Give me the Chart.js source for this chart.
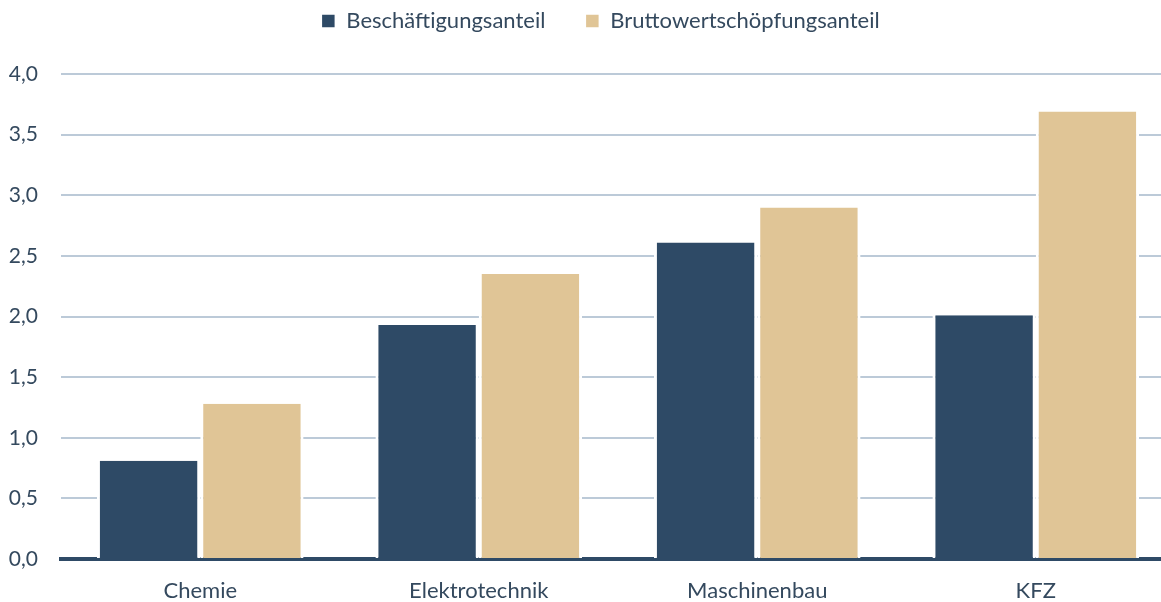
<!DOCTYPE html>
<html>
<head>
<meta charset="utf-8">
<script src="https://cdn.jsdelivr.net/npm/chart.js@4/dist/chart.umd.min.js"></script>
<style>
    body { margin: 0; overflow: hidden; background: #fff; }
</style>
</head>
<body>
<canvas id="chart" width="1175" height="602"></canvas>
<script>
var categories = ["Chemie", "Elektrotechnik", "Maschinenbau", "KFZ"];
var beschaeftigung = [0.81, 1.93, 2.61, 2.01];
var wertschoepfung = [1.28, 2.35, 2.90, 3.69];
var series_names = ["Beschäftigungsanteil", "Bruttowertschöpfungsanteil"];

var dark = "#2E4A66";
var sand = "#E0C596";
var text_color = "#34495E";

Chart.defaults.font.family = "Lato";
Chart.defaults.font.size = 22;
Chart.defaults.color = text_color;

// Legende: grosser Abstand zwischen den Einträgen, Zeichenfläche beginnt bei y=74
var legendSpace = {
    id: "legendSpace",
    beforeInit: function(chart) {
        var fit = chart.legend.fit;
        chart.legend.fit = function() {
            fit.bind(chart.legend)();
            this.height += 2;
        };
    },
    afterLayout: function(chart) {
        chart.legend.left += 13;
        chart.legend.right += 13;
        chart.legend.top -= 30;
        chart.legend.bottom -= 30;
    }
};

var ctx = document.getElementById("chart").getContext("2d");
var myChart = new Chart(ctx, {
    type: "bar",
    data: {
        labels: categories,
        datasets: [{
                label: series_names[0],
                data: beschaeftigung,
                backgroundColor: dark,
                borderColor: "#ffffff",
                borderWidth: { left: 3, right: 3, top: 0, bottom: 0 },
            },
            {
                label: series_names[1],
                data: wertschoepfung,
                backgroundColor: sand,
                borderColor: "#ffffff",
                borderWidth: { left: 3, right: 3, top: 0, bottom: 0 },
            },
        ],
    },
    options: {
        responsive: false,
        animation: false,
        layout: { padding: 0 },
        categoryPercentage: 0.742,
        barPercentage: 1.0,
        plugins: {
            legend: {
                position: "top",
                labels: {
                    boxWidth: 14,
                    boxHeight: 14,
                    padding: 40,
                    font: { size: 22 },
                },
            },
            tooltip: { enabled: false },
        },
        scales: {
            x: {
                grid: { display: false, drawTicks: false },
                border: { color: dark, width: 4 },
                ticks: { padding: 19, font: { size: 22 } },
                afterFit: function(s) { s.height = 43; },
            },
            y: {
                min: 0,
                max: 4,
                ticks: {
                    stepSize: 0.5,
                    padding: 23,
                    font: { size: 21 },
                    callback: function(v) { return v.toFixed(1).replace(".", ","); },
                },
                grid: { color: "#BCCAD8", lineWidth: 2, drawTicks: false },
                border: { display: false },
                afterFit: function(s) { s.width = 61; },
            },
        },
    },
    plugins: [legendSpace],
});
</script>
</body>
</html>
